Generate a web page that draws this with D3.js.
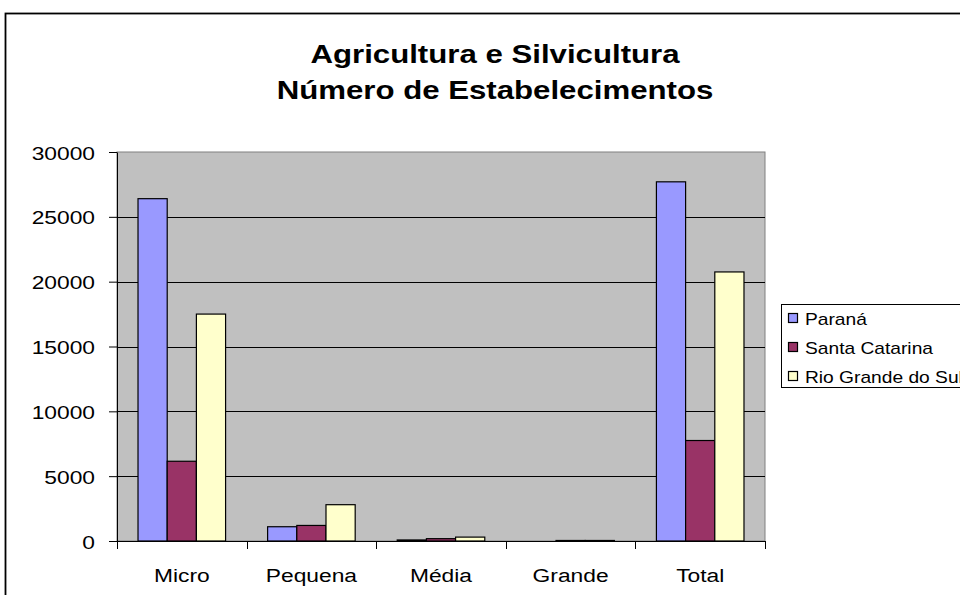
<!DOCTYPE html>
<html><head><meta charset="utf-8">
<script src="https://cdn.jsdelivr.net/npm/d3@7"></script>
<style>
html,body{margin:0;padding:0;background:#fff;overflow:hidden}
text{font-family:"Liberation Sans",Arial,sans-serif;fill:#000}
</style></head>
<body><svg id="c" width="960" height="595"></svg>
<script>
const categories = ["Micro","Pequena","Média","Grande","Total"];
const seriesNames = ["Paraná","Santa Catarina","Rio Grande do Sul"];
const parana = [26400, 1100, 80, 0, 27700];
const santaCatarina = [6150, 1200, 180, 40, 7750];
const rioGrande = [17500, 2800, 300, 40, 20750];
const seriesColors = ["#9999FF","#993366","#FFFFCC"];
const yTicks = [0,5000,10000,15000,20000,25000,30000];
const titleLines = ["Agricultura e Silvicultura","Número de Estabelecimentos"];

const seriesValues = [parana, santaCatarina, rioGrande];
const SX = 1.2; // horizontal text stretch seen in the reference

const svg = d3.select("#c");
const L = 117, R = 765, T = 152, B = 541;

// outer chart border
svg.append("rect").attr("x",5.5).attr("y",13.5).attr("width",1200).attr("height",1200)
  .attr("fill","none").attr("stroke","#000").attr("stroke-width",1.8);

function stext(g, x, y, str, anchor, size, weight){
  return g.append("text").attr("transform",`translate(${x},${y}) scale(${SX},1)`)
    .attr("text-anchor",anchor).attr("font-size",size).attr("font-weight",weight||"normal").text(str);
}
// title
titleLines.forEach((t,i)=>stext(svg, 495, 63 + i*36, t, "middle", 26, "bold"));

const x = d3.scaleBand().domain(categories).range([L,R]).paddingInner(0).paddingOuter(0);
const x1 = d3.scaleBand().domain(seriesNames).range([0,x.bandwidth()]).paddingInner(0).paddingOuter(0.72);
const y = d3.scaleLinear().domain([0,30000]).range([B,T]);

// plot area
svg.append("rect").attr("x",L).attr("y",T).attr("width",R-L).attr("height",B-T)
  .attr("fill","#C0C0C0").attr("stroke","#808080").attr("stroke-width",1);

// gridlines
svg.append("g").selectAll("line").data(yTicks.filter(d=>d>0 && d<30000)).join("line")
  .attr("x1",L).attr("x2",R).attr("y1",d=>Math.round(y(d))+0.5).attr("y2",d=>Math.round(y(d))+0.5)
  .attr("stroke","#000").attr("stroke-width",1);

// bars
const groups = svg.append("g").selectAll("g").data(categories).join("g")
  .attr("transform",d=>`translate(${x(d)},0)`);
groups.selectAll("rect").data((c,ci)=>seriesNames.map((s,si)=>({s,si,v:seriesValues[si][ci]}))).join("rect")
  .attr("x",d=>x1(d.s)).attr("width",x1.bandwidth())
  .attr("y",d=>y(d.v)).attr("height",d=>Math.max(0,B-y(d.v)))
  .attr("fill",d=>seriesColors[d.si]).attr("stroke","#000").attr("stroke-width",1.2)
  .attr("display",d=>d.v>0?null:"none");

// y axis
const yAxis = svg.append("g").attr("transform",`translate(${L},0)`)
  .call(d3.axisLeft(y).tickValues(yTicks).tickSize(8).tickSizeOuter(0).tickFormat(d3.format("d")));
yAxis.select(".domain").attr("stroke","#000");
yAxis.selectAll(".tick line").attr("stroke","#000");
yAxis.selectAll(".tick text").each(function(){
  const t = d3.select(this);
  t.attr("x",null).attr("dy",null).attr("transform",`translate(-22,7) scale(${SX},1)`)
   .attr("font-size",19).attr("font-family",null).attr("text-anchor","end");
});
yAxis.attr("font-family",null).attr("font-size",null);

// x axis
const xAxis = svg.append("g").attr("transform",`translate(0,${B})`);
xAxis.append("line").attr("x1",L).attr("x2",R).attr("y1",0.5).attr("y2",0.5).attr("stroke","#000");
const bounds = categories.map(c=>x(c)).concat([R]);
xAxis.selectAll("line.tk").data(bounds).join("line").attr("class","tk")
  .attr("x1",d=>Math.round(d)+0.5).attr("x2",d=>Math.round(d)+0.5).attr("y1",0).attr("y2",8).attr("stroke","#000");
categories.forEach(c=>stext(xAxis, x(c)+x.bandwidth()/2, 41, c, "middle", 19));

// legend
const lg = svg.append("g");
lg.append("rect").attr("x",781.5).attr("y",304.5).attr("width",300).attr("height",83)
  .attr("fill","#fff").attr("stroke","#000").attr("stroke-width",1);
seriesNames.forEach((s,i)=>{
  const cy = 319 + i*29;
  lg.append("rect").attr("x",788.5).attr("y",cy-5.5).attr("width",9).attr("height",9)
    .attr("fill",seriesColors[i]).attr("stroke","#000").attr("stroke-width",1.2);
  stext(lg, 805, cy+6, s, "start", 16);
});
</script></body></html>
